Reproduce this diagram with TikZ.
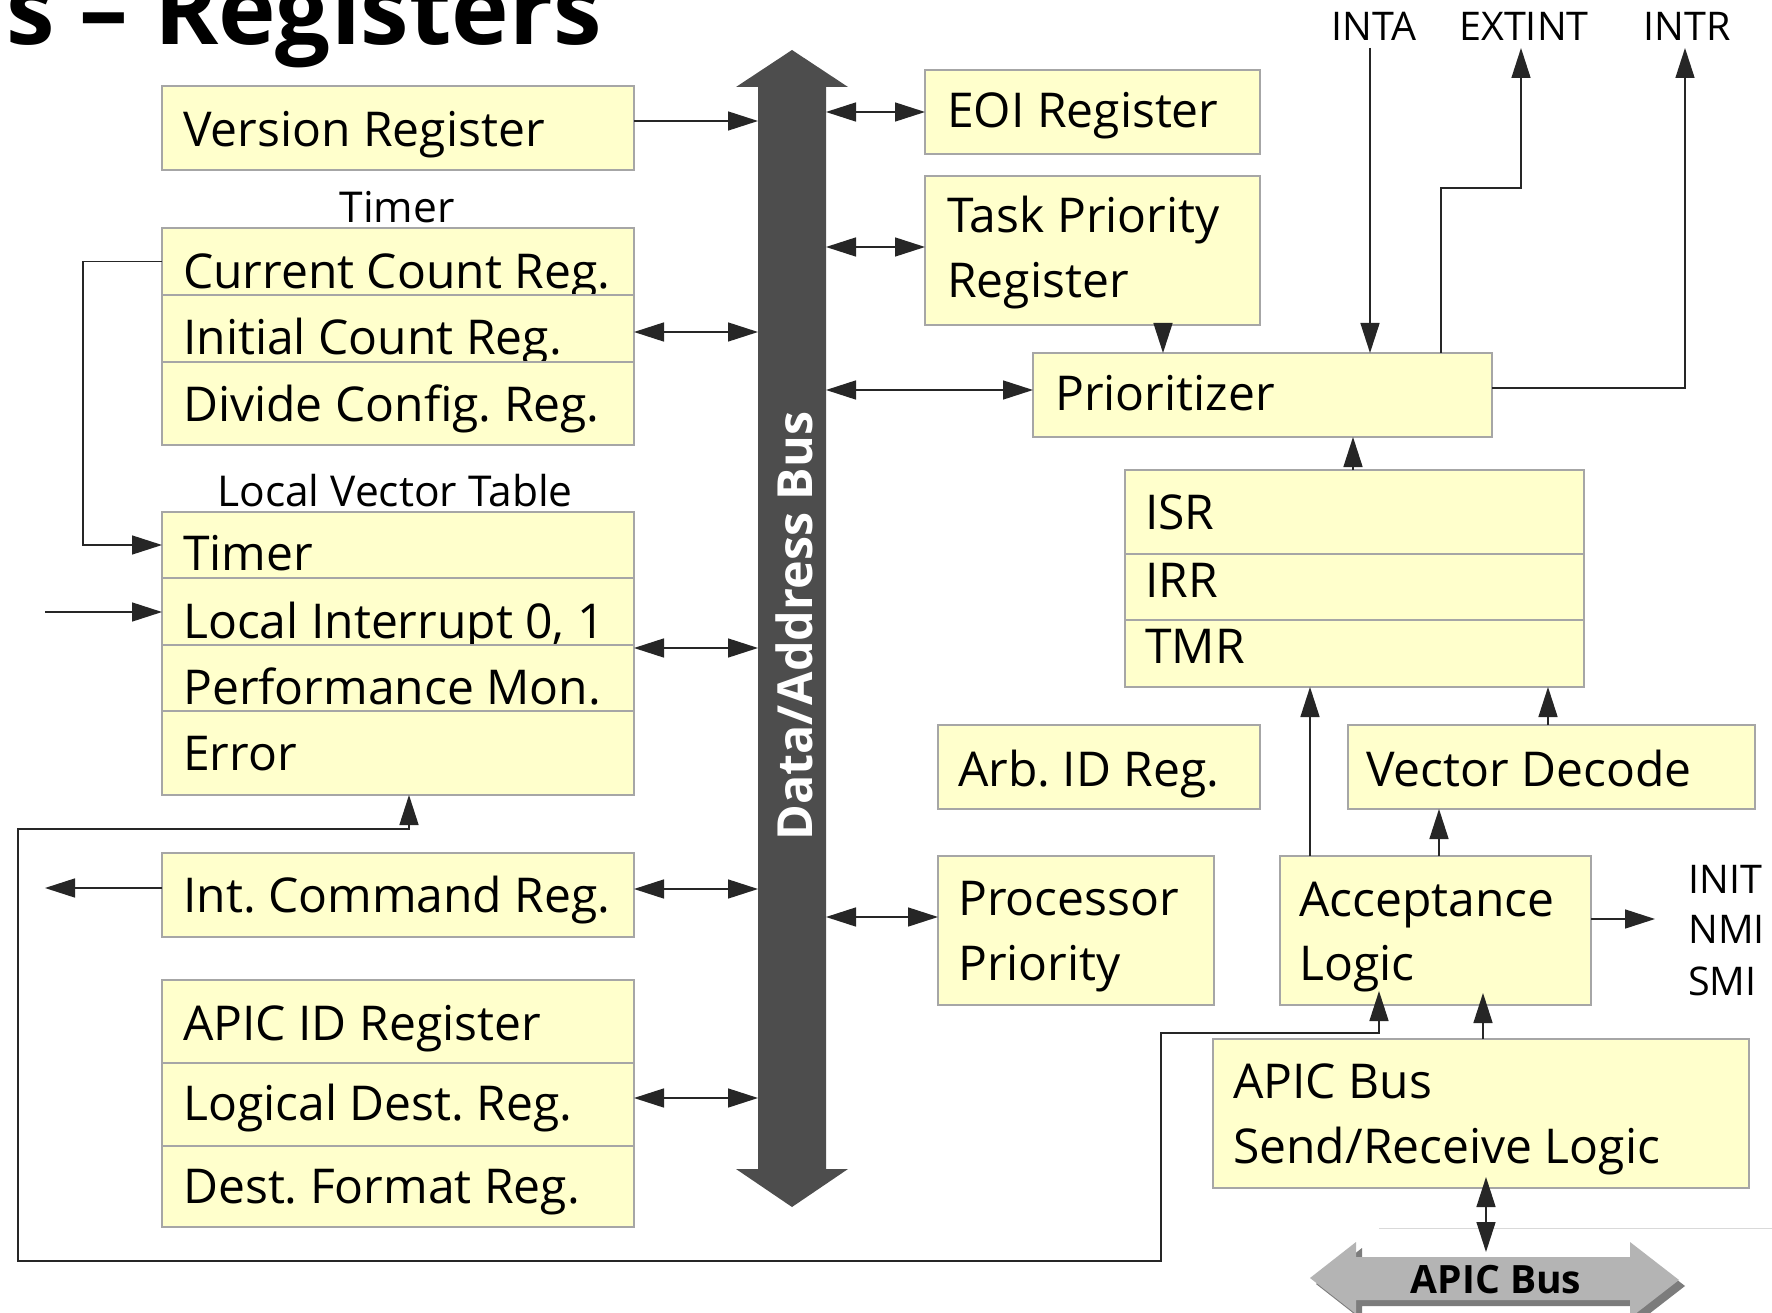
\documentclass[tikz,border=0pt]{standalone}
\usepackage{fontspec}
\setmainfont{Open Sans}
\usetikzlibrary{arrows.meta,calc}
\definecolor{boxfill}{HTML}{FFFFCC}
\definecolor{boxline}{HTML}{A6A6A6}
\definecolor{busgray}{HTML}{4D4D4D}
\definecolor{apicgray}{HTML}{B4B4B4}
\definecolor{apicshadow}{HTML}{7C7C7C}
\begin{document}
\frenchspacing
\begin{tikzpicture}[x=1pt,y=-1pt,
  box/.style={draw=boxline, fill=boxfill, line width=1.5pt, inner sep=0pt, outer sep=0pt, anchor=north west},
  sz/.style 2 args={minimum width=#1pt, minimum height=#2pt},
  txt/.style={anchor=base west, inner sep=0pt, font=\fontsize{48}{56}\selectfont},
  lbl/.style={anchor=base, inner sep=0pt, font=\fontsize{42.5}{50}\selectfont},
  sig/.style={inner sep=0pt, font=\fontsize{39.5}{46}\selectfont},
  conn/.style={draw=black!85, line width=1.5pt},
  arr/.style={conn, -{Triangle[length=30pt,width=19pt]}},
  dbl/.style={conn, {Triangle[length=30pt,width=19pt]}-{Triangle[length=30pt,width=19pt]}},
]
\useasboundingbox (0,0) rectangle (1772,1313);
\clip (0,0) rectangle (1772,1313);
\fill[white] (0,0) rectangle (1772,1313);

% title
\node[anchor=base west, inner sep=0pt, font=\bfseries\fontsize{97.5}{105}\selectfont] (title) at (6,45) {s – Registers};

% data/address bus
\fill[busgray] (792,50) -- (848,87) -- (826,87) -- (826,1169) -- (848,1169) -- (792,1207)
  -- (736,1169) -- (758,1169) -- (758,87) -- (736,87) -- cycle;
\node[rotate=90, inner sep=0pt, text=white, font=\bfseries\fontsize{48.4}{56}\selectfont] (bustxt) at (794,626) {Data/Address Bus};
\coordinate (busW) at (758,600);
\coordinate (busE) at (826,600);

% left column
\node[box, sz={472}{84}] (ver) at (162,86) {};
\node[txt] (vert) at (183,147) {Version Register};

\node[lbl] (tlbl) at (397,223) {Timer};
\node[box, sz={472}{67}] (cc) at (162,228) {};
\node[txt] (cct) at (183,289) {Current Count Reg.};
\node[box, sz={472}{67}] (ic) at (162,295) {};
\node[txt] (ict) at (183,355) {Initial Count Reg.};
\node[box, sz={472}{83}] (dc) at (162,362) {};
\node[txt] (dct) at (183,421) {Divide Config. Reg.};

\node[lbl] (lvtlbl) at (395,506) {Local Vector Table};
\node[box, sz={472}{66}] (lt) at (162,512) {};
\node[txt] (ltt) at (183,570) {Timer};
\node[box, sz={472}{67}] (li) at (162,578) {};
\node[txt] (lit) at (183,638) {Local Interrupt 0, 1};
\node[box, sz={472}{66}] (pm) at (162,645) {};
\node[txt] (pmt) at (183,704) {Performance Mon.};
\node[box, sz={472}{84}] (er) at (162,711) {};
\node[txt] (ert) at (183,770) {Error};

\node[box, sz={472}{84}] (icr) at (162,853) {};
\node[txt] (icrt) at (183,912) {Int. Command Reg.};

\node[box, sz={472}{83}] (ai) at (162,980) {};
\node[txt] (ait) at (183,1040) {APIC ID Register};
\node[box, sz={472}{83}] (ld) at (162,1063) {};
\node[txt] (ldt) at (183,1120) {Logical Dest. Reg.};
\node[box, sz={472}{81}] (df) at (162,1146) {};
\node[txt] (dft) at (183,1203) {Dest. Format Reg.};

% right column
\node[box, sz={335}{84}] (eoi) at (925,70) {};
\node[txt] (eoit) at (947,128) {EOI Register};
\node[box, sz={335}{149}] (tpr) at (925,176) {};
\node[txt] (tprt1) at (947,233) {Task Priority};
\node[txt] (tprt2) at (947,298) {Register};
\node[box, sz={459}{84}] (pri) at (1033,353) {};
\node[txt] (prit) at (1055,410) {Prioritizer};

\node[box, sz={459}{84}] (isr) at (1125,470) {};
\node[txt] (isrt) at (1145,529) {ISR};
\node[box, sz={459}{66}] (irr) at (1125,554) {};
\node[txt] (irrt) at (1145,597) {IRR};
\node[box, sz={459}{67}] (tmr) at (1125,620) {};
\node[txt] (tmrt) at (1145,663) {TMR};

\node[box, sz={322}{84}] (arb) at (938,725) {};
\node[txt] (arbt) at (958,786) {Arb. ID Reg.};
\node[box, sz={407}{84}] (vd) at (1348,725) {};
\node[txt] (vdt) at (1366,786) {Vector Decode};

\node[box, sz={276}{149}] (pp) at (938,856) {};
\node[txt] (ppt1) at (958,915) {Processor};
\node[txt] (ppt2) at (958,980) {Priority};
\node[box, sz={311}{149}] (acc) at (1280,856) {};
\node[txt] (acct1) at (1299,916) {Acceptance};
\node[txt] (acct2) at (1299,980) {Logic};

\node[box, sz={536}{149}] (snd) at (1213,1039) {};
\node[txt] (sndt1) at (1233,1098) {APIC Bus};
\node[txt] (sndt2) at (1233,1163) {Send/Receive Logic};

% signal labels
\node[sig, anchor=base] (inta) at (1374,41) {INTA};
\node[sig, anchor=base] (extint) at (1524,41) {EXTINT};
\node[sig, anchor=base] (intr) at (1687,41) {INTR};
\node[sig, anchor=base west] (init) at (1688,893) {INIT};
\node[sig, anchor=base west] (nmi) at (1688,943) {NMI};
\node[sig, anchor=base west] (smi) at (1688,995) {SMI};

% APIC bus arrow
\fill[apicshadow] (1316,1284) -- (1362,1248) -- (1362,1263) -- (1636,1263) -- (1636,1248) -- (1685,1286)
  -- (1636,1324) -- (1636,1306) -- (1362,1306) -- (1362,1320) -- cycle;
\fill[apicgray] (1310,1278) -- (1356,1242) -- (1356,1257) -- (1630,1257) -- (1630,1242) -- (1679,1280)
  -- (1630,1318) -- (1630,1300) -- (1356,1300) -- (1356,1314) -- cycle;
\node[anchor=base, inner sep=0pt, font=\bfseries\fontsize{39}{46}\selectfont] (apicbus) at (1496,1293) {APIC Bus};
\draw[gray!30, line width=1pt] (1379,1228) -- (1772,1228);

% connectors to the bus
\draw[arr] ([yshift=7pt]ver.east) -- ([yshift=7pt]ver.east -| busW);
\draw[dbl] (busE |- eoi.west) -- (eoi.west);
\draw[dbl] ([yshift=3.5pt]tpr.west -| busE) -- ([yshift=3.5pt]tpr.west);
\draw[dbl] ([yshift=5pt]pri.west -| busE) -- ([yshift=5pt]pri.west);
\draw[dbl] ([yshift=-3.5pt]ic.east) -- ([yshift=-3.5pt]ic.east -| busW);
\draw[dbl] ([yshift=-3pt]li.south east) -- ([yshift=-3pt]li.south east -| busW);
\draw[dbl] ([yshift=6pt]icr.east) -- ([yshift=6pt]icr.east -| busW);
\draw[dbl] ([yshift=6.5pt]ld.east) -- ([yshift=6.5pt]ld.east -| busW);
\draw[dbl] ([yshift=13.5pt]pp.west -| busE) -- ([yshift=13.5pt]pp.west);

% left side connectors
\coordinate (lpA) at (83,0);
\draw[arr] (cc.west) -- (cc.west -| lpA) |- (lt.west);
\coordinate (liin) at (45,612);
\draw[arr] (liin) -- (liin -| li.west);
\coordinate (icrout) at (45,888);
\draw[arr] (icrout -| icr.west) -- (icrout);

% long feedback loop
\coordinate (errIn) at (409,829);
\coordinate (lpL) at (18,1261);
\coordinate (lpR) at (1161,1033);
\coordinate (accIn) at (1379,1000);
\draw[dbl] (errIn |- er.south) -- (errIn) -| (lpL) -| (lpR) -| ($(accIn |- acc.south)+(0,-14)$);

% right side connectors
\coordinate (intaTop) at (1370,48);
\draw[arr] (intaTop) -- (intaTop |- pri.north);
\coordinate (exA) at (1441,188);
\coordinate (exTop) at (1521,48);
\draw[arr] (exA |- pri.north) -- (exA) -| (exTop);
\coordinate (inTop) at (1685,48);
\draw[arr] ([yshift=7pt]pri.east) -| (inTop);

\coordinate (tpX) at (1163,0);
\draw[arr] (tpX |- tpr.south) -- (tpX |- pri.north);
\coordinate (isX) at (1353,0);
\draw[arr] (isX |- isr.north) -- (isX |- pri.south);
\coordinate (acX) at (1310,0);
\draw[arr] (acX |- acc.north) -- (acX |- tmr.south);
\coordinate (vdX) at (1548,0);
\draw[arr] (vdX |- vd.north) -- (vdX |- tmr.south);
\coordinate (avX) at (1439,0);
\draw[arr] (avX |- acc.north) -- (avX |- vd.south);
\coordinate (initIn) at (1655,919);
\draw[arr] (acc.east |- initIn) -- (initIn);
\coordinate (sdX) at (1483,0);
\draw[arr] (sdX |- snd.north) -- ($(sdX |- acc.south)+(0,-12)$);
\coordinate (apTop) at (1486,1252);
\draw[dbl] ($(apTop |- snd.south)+(0,-11)$) -- (apTop);
\end{tikzpicture}
\end{document}
